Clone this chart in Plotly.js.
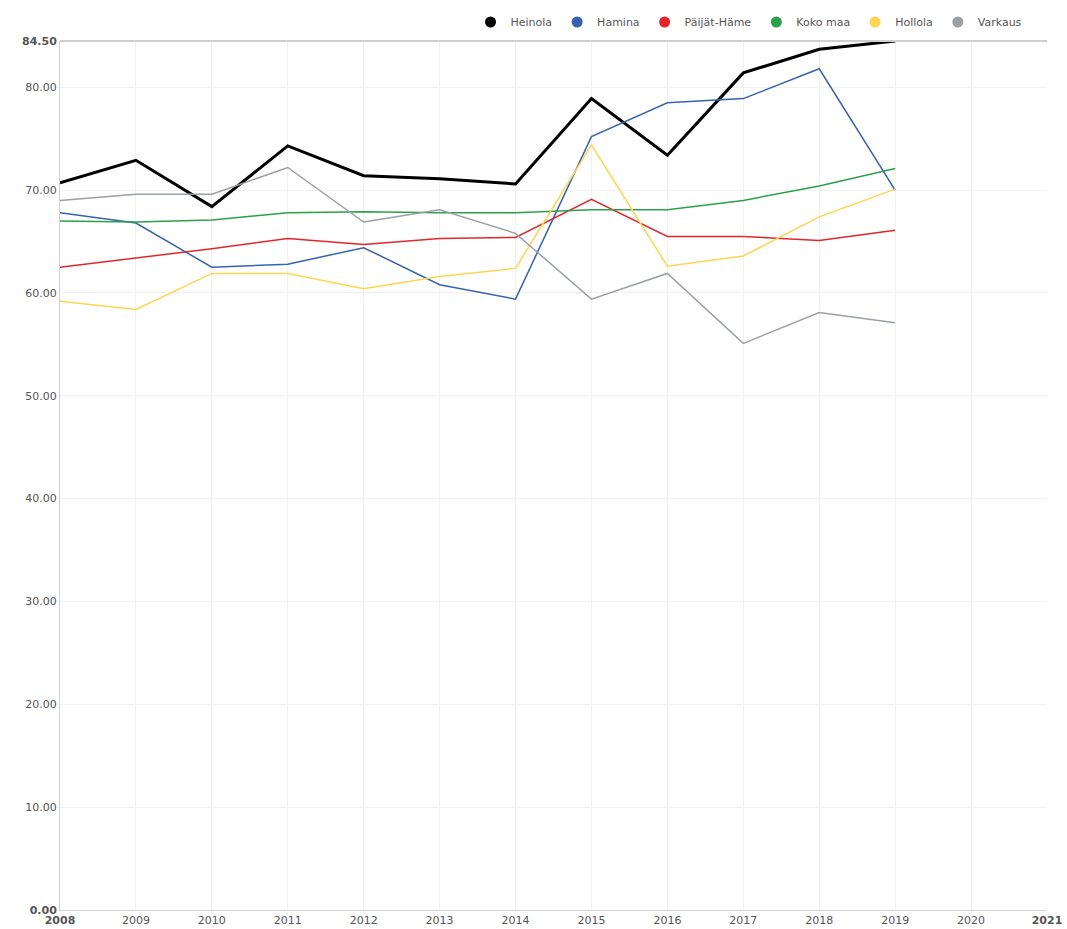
<!DOCTYPE html>
<html>
<head>
<meta charset="utf-8">
<script src="https://cdn.plot.ly/plotly-3.0.1.min.js"></script>
<style>html,body{margin:0;padding:0;background:#fff;}#chart{width:1067px;height:929px;}</style>
</head>
<body>
<div id="chart"></div>
<script>
const years = [2008,2009,2010,2011,2012,2013,2014,2015,2016,2017,2018,2019];
const heinola   = [70.7,72.9,68.4,74.3,71.4,71.1,70.6,78.9,73.4,81.4,83.7,84.5];
const hamina    = [67.8,66.8,62.5,62.8,64.4,60.8,59.4,75.2,78.5,78.9,81.8,70.0];
const paijatHame= [62.5,63.4,64.3,65.3,64.7,65.3,65.4,69.1,65.5,65.5,65.1,66.1];
const kokoMaa   = [67.0,66.9,67.1,67.8,67.9,67.8,67.8,68.1,68.1,69.0,70.4,72.1];
const hollola   = [59.2,58.4,61.9,61.9,60.4,61.6,62.4,74.4,62.6,63.6,67.4,70.1];
const varkaus   = [69.0,69.6,69.6,72.2,66.9,68.1,65.8,59.4,61.9,55.1,58.1,57.1];

const seriesNames = ['Heinola','Hamina','Päijät-Häme','Koko maa','Hollola','Varkaus'];
const seriesData = [heinola,hamina,paijatHame,kokoMaa,hollola,varkaus];
const colors = ['#000000','#3563ad','#e3262b','#2aa048','#ffd54f','#9aa0a6'];
const widths = [3,1.5,1.5,1.5,1.5,1.5];

const xTickVals = [2008,2009,2010,2011,2012,2013,2014,2015,2016,2017,2018,2019,2020,2021];
const xTickText = xTickVals.map((v,i)=> (i===0||i===xTickVals.length-1) ? '<b>'+v+'</b>' : String(v));
const yTickVals = [0,10,20,30,40,50,60,70,80,84.5];
const yTickText = yTickVals.map((v,i)=> (i===0||i===yTickVals.length-1) ? '<b>'+v.toFixed(2)+'</b>' : v.toFixed(2));

const traces = [];
seriesNames.forEach((n,i)=>{
  traces.push({x:years,y:seriesData[i],type:'scatter',mode:'lines',name:n,
    line:{color:colors[i],width:widths[i]},showlegend:false,hoverinfo:'x+y+name'});
});
seriesNames.forEach((n,i)=>{
  traces.push({x:[null],y:[null],type:'scatter',mode:'markers',name:n,
    marker:{color:colors[i],size:11,symbol:'circle'},showlegend:true});
});

const layout = {
  width:1067,height:929,
  margin:{l:60,r:20,t:41,b:19},
  paper_bgcolor:'#fff',plot_bgcolor:'#fff',
  font:{family:'DejaVu Sans, sans-serif',size:11,color:'#555'},
  showlegend:true,
  legend:{orientation:'h',xref:'container',yref:'container',x:0.963,xanchor:'right',
    y:1-22/929,yanchor:'middle',
    font:{size:11,color:'#555'},itemwidth:20,tracegroupgap:0,bgcolor:'rgba(0,0,0,0)'},
  xaxis:{range:[2008,2021],tickmode:'array',tickvals:xTickVals,ticktext:xTickText,
    showgrid:true,gridcolor:'#f1f1f1',zeroline:false,showline:true,linecolor:'#d0d0d0',
    mirror:false,ticks:'',tickfont:{size:11,color:'#555'},fixedrange:true,automargin:false},
  yaxis:{range:[0,84.5],tickmode:'array',tickvals:yTickVals,ticktext:yTickText,
    showgrid:true,gridcolor:'#f1f1f1',zeroline:false,showline:true,linecolor:'#d0d0d0',
    ticks:'',tickfont:{size:11,color:'#555'},fixedrange:true,automargin:false},
  shapes:[{type:'line',xref:'paper',yref:'paper',x0:0,x1:1,y0:1,y1:1,line:{color:'#cfcfcf',width:2}}]
};
Plotly.newPlot('chart',traces,layout,{displayModeBar:false,staticPlot:true});
</script>
</body>
</html>
